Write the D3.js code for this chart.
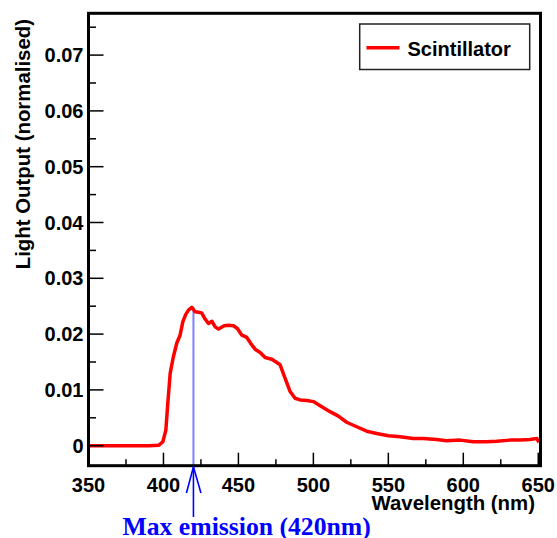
<!DOCTYPE html>
<html>
<head>
<meta charset="utf-8">
<script src="https://cdn.jsdelivr.net/npm/d3@7"></script>
<style>
    body { margin: 0; background: #fff; }
    svg { display: block; }
</style>
</head>
<body>
<div id="chart"></div>
<script>
// emission spectrum
const wavelengths = [350, 360, 370, 380, 390, 397, 399.6, 401.6, 403, 404.5, 406.5, 408.9, 411.1, 412.9, 414.8, 416.7,
    418.9, 421.1, 423.3, 425.5, 427.8, 430, 432.3, 434.5, 436.7, 440.5, 443.5, 446.7, 449.3, 452.3, 455.6, 458.3,
    461.1, 464.5, 467.8, 472.3, 475.6, 477.8, 481.1, 484.5, 487.8, 491.1, 495.6, 500, 505.6, 511.1, 516.7, 522.2,
    528.9, 535.6, 542.2, 550, 557.8, 566.7, 573.3, 582.2, 588.9, 597.8, 606.7, 615.5, 622.2, 631.1, 637.8, 644.5,
    649, 650.5];
const lightOutput = [0, 0, 0, 0, 0, 0.0001, 0.0007, 0.0028, 0.008, 0.013, 0.0158, 0.0184, 0.0198, 0.0222, 0.0235, 0.0243,
    0.0248, 0.024, 0.0239, 0.0238, 0.0227, 0.0219, 0.0223, 0.0213, 0.0209, 0.0215, 0.0216, 0.0215, 0.021, 0.0198, 0.0194, 0.0183,
    0.0173, 0.0167, 0.0158, 0.0155, 0.0149, 0.0145, 0.0121, 0.0097, 0.0085, 0.0082, 0.0081, 0.0079, 0.007, 0.0061, 0.0053, 0.0042,
    0.0034, 0.0026, 0.0022, 0.0018, 0.0016, 0.0013, 0.0013, 0.0011, 0.0009, 0.001, 0.0007, 0.0007, 0.0008, 0.001, 0.001, 0.0011,
    0.0013, 0.0006];

const xTicks = [350, 400, 450, 500, 550, 600, 650];
const xMinorTicks = [375, 425, 475, 525, 575, 625];
const yTicks = [0, 0.01, 0.02, 0.03, 0.04, 0.05, 0.06, 0.07];
const yMinorTicks = [0.005, 0.015, 0.025, 0.035, 0.045, 0.055, 0.065, 0.075];
const seriesName = 'Scintillator';
const peakWavelength = 420;
const peakLabel = 'Max emission (420nm)';

const width = 557, height = 538;
const plotLeft = 88.5, plotRight = 540.5, plotTop = 13.3, plotBottom = 465.7;
const sans = "'Liberation Sans', Arial, Helvetica, sans-serif";

let svg = d3.select('#chart').append('svg')
        .attr('width', width)
        .attr('height', height);

let x = d3.scaleLinear()
        .domain([350, 651.5])
        .range([plotLeft, plotRight]);

let y = d3.scaleLinear()
        .domain([-0.003584, 0.07749])
        .range([plotBottom, plotTop]);

let data = wavelengths.map(function (w, i) { return {w: w, v: lightOutput[i]}; });

// light blue marker from the peak down to the axis
let peakValue = d3.max(lightOutput);
svg.append('line')
        .attr('x1', x(peakWavelength)).attr('x2', x(peakWavelength))
        .attr('y1', y(peakValue)).attr('y2', plotBottom)
        .attr('stroke', '#7f7fff')
        .attr('stroke-width', 2);

// the spectrum
let line = d3.line()
        .x(function (d) { return x(d.w); })
        .y(function (d) { return y(d.v); });

svg.append('path')
        .datum(data)
        .attr('d', line)
        .attr('fill', 'none')
        .attr('stroke', '#ff0000')
        .attr('stroke-width', 3.5)
        .attr('stroke-linejoin', 'round');

// ticks point inwards, only on bottom and left
let tickG = svg.append('g').attr('stroke', '#000').attr('stroke-width', 1.5);
tickG.selectAll('line.xmaj').data(xTicks).enter().append('line')
        .attr('class', 'xmaj')
        .attr('x1', function (d) { return x(d); }).attr('x2', function (d) { return x(d); })
        .attr('y1', plotBottom).attr('y2', plotBottom - 13);
tickG.selectAll('line.xmin').data(xMinorTicks).enter().append('line')
        .attr('class', 'xmin')
        .attr('x1', function (d) { return x(d); }).attr('x2', function (d) { return x(d); })
        .attr('y1', plotBottom).attr('y2', plotBottom - 6.5);
tickG.selectAll('line.ymaj').data(yTicks).enter().append('line')
        .attr('class', 'ymaj')
        .attr('x1', plotLeft).attr('x2', plotLeft + 15)
        .attr('y1', function (d) { return y(d); }).attr('y2', function (d) { return y(d); });
tickG.selectAll('line.ymin').data(yMinorTicks).enter().append('line')
        .attr('class', 'ymin')
        .attr('x1', plotLeft).attr('x2', plotLeft + 7.5)
        .attr('y1', function (d) { return y(d); }).attr('y2', function (d) { return y(d); });

// frame
svg.append('rect')
        .attr('x', plotLeft).attr('y', plotTop)
        .attr('width', plotRight - plotLeft).attr('height', plotBottom - plotTop)
        .attr('fill', 'none')
        .attr('stroke', '#000')
        .attr('stroke-width', 3);

// tick labels
svg.selectAll('text.xlab').data(xTicks).enter().append('text')
        .attr('class', 'xlab')
        .attr('x', function (d) { return x(d); })
        .attr('y', 491.5)
        .attr('text-anchor', 'middle')
        .style('font-family', sans).style('font-weight', 'bold').style('font-size', '20px')
        .text(function (d) { return d; });

svg.selectAll('text.ylab').data(yTicks).enter().append('text')
        .attr('class', 'ylab')
        .attr('x', 83.5)
        .attr('y', function (d) { return y(d) + 7.2; })
        .attr('text-anchor', 'end')
        .style('font-family', sans).style('font-weight', 'bold').style('font-size', '20px')
        .text(function (d) { return d === 0 ? '0' : d3.format('.2f')(d); });

// axis titles (x title sits just under the labels, right aligned)
svg.append('text')
        .attr('x', 535).attr('y', 510)
        .attr('text-anchor', 'end')
        .style('font-family', sans).style('font-weight', 'bold').style('font-size', '20.4px')
        .text('Wavelength (nm)');

svg.append('text')
        .attr('transform', 'translate(29.5,19) rotate(-90)')
        .attr('text-anchor', 'end')
        .style('font-family', sans).style('font-weight', 'bold').style('font-size', '20.4px')
        .text('Light Output (normalised)');

// legend
let legend = svg.append('g');
legend.append('rect')
        .attr('x', 359.7).attr('y', 24)
        .attr('width', 170).attr('height', 45.5)
        .attr('fill', '#fff')
        .attr('stroke', '#222')
        .attr('stroke-width', 1.5);
legend.append('line')
        .attr('x1', 366.5).attr('x2', 399.5)
        .attr('y1', 47.7).attr('y2', 47.7)
        .attr('stroke', '#ff0000')
        .attr('stroke-width', 3.5);
legend.append('text')
        .attr('x', 407.5).attr('y', 55.5)
        .style('font-family', sans).style('font-weight', 'bold').style('font-size', '20px')
        .text(seriesName);

// arrow under the axis pointing at the peak
let ax = x(peakWavelength);
let arrow = svg.append('g')
        .attr('stroke', '#0000ff')
        .attr('stroke-width', 1.6)
        .attr('fill', 'none');
arrow.append('line')
        .attr('x1', ax).attr('x2', ax)
        .attr('y1', plotBottom + 1).attr('y2', 517);
arrow.append('path')
        .attr('d', 'M' + (ax - 7) + ',' + 493 + 'L' + ax + ',' + (plotBottom + 1) + 'L' + (ax + 7.5) + ',' + 493);

svg.append('text')
        .attr('x', 122.5).attr('y', 534.5)
        .style('font-family', "'Liberation Serif', 'Times New Roman', serif")
        .style('font-weight', 'bold').style('font-size', '25.7px')
        .style('fill', '#0000ff')
        .text(peakLabel);
</script>
</body>
</html>
